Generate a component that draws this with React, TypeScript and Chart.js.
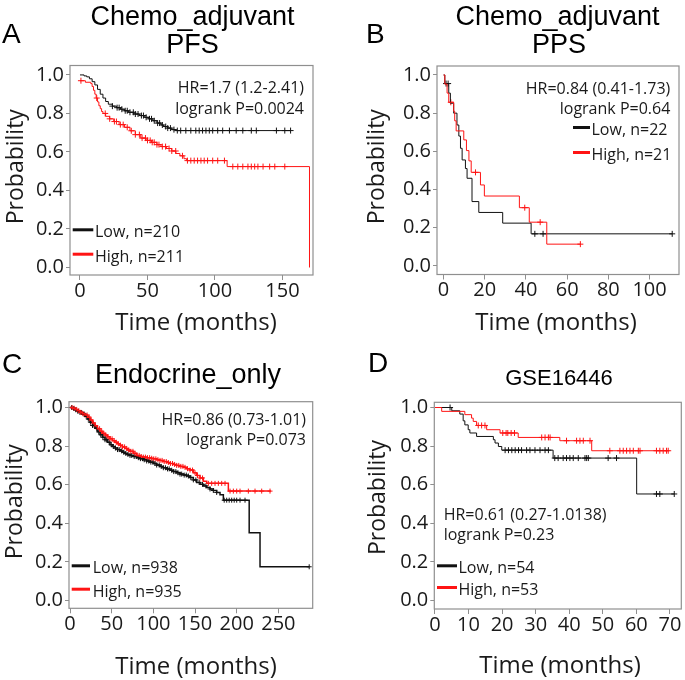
import React, { useEffect, useRef } from "react";
import { Chart, registerables } from "chart.js";

Chart.register(...registerables);

// ---------------- shared ticks ----------------
const yTickValues = [0, 0.2, 0.4, 0.6, 0.8, 1.0];
const yTickLabels = ["0.0", "0.2", "0.4", "0.6", "0.8", "1.0"];

// ---------------- Panel A: Chemo_adjuvant PFS ----------------
const aXTicks = [0, 50, 100, 150];
const aXTickLabels = ["0", "50", "100", "150"];
const aLowTime = [0, 3, 5, 7, 9, 11, 13, 15, 17, 19, 21, 24, 27, 30, 33, 36, 40, 44, 48, 51, 54, 57, 60, 62, 65, 68, 71, 156];
const aLowSurv = [1.0, 0.995, 0.99, 0.98, 0.965, 0.948, 0.925, 0.9, 0.88, 0.862, 0.848, 0.838, 0.83, 0.822, 0.814, 0.806, 0.797, 0.789, 0.78, 0.772, 0.762, 0.75, 0.74, 0.732, 0.724, 0.716, 0.711, 0.711];
const aLowCensor = [24, 27.5, 29, 31, 33.5, 35, 37, 39.5, 41, 43, 45.5, 47, 49, 51.5, 53, 55, 57.5, 59, 61, 63.5, 65, 67, 69.6, 72.1, 74.6, 78.4, 82.1, 85.8, 88.3, 90.8, 93.3, 95.8, 98.3, 102, 105.7, 110.7, 115.7, 120.6, 126.9, 130.6, 145.5, 151.7, 156];
const aHighTime = [0, 4, 8, 9, 10, 11, 12, 13, 14, 15, 16, 17, 19, 22, 25, 29, 33, 37, 41, 45, 49, 53, 57, 60, 64, 68, 71, 74, 77, 79, 109, 170];
const aHighSurv = [0.97, 0.962, 0.955, 0.94, 0.92, 0.9, 0.88, 0.86, 0.84, 0.825, 0.81, 0.8, 0.785, 0.772, 0.758, 0.742, 0.728, 0.71, 0.69, 0.672, 0.66, 0.65, 0.638, 0.628, 0.618, 0.605, 0.592, 0.58, 0.565, 0.555, 0.524, 0.0];
const aHighCensor = [0.7, 12.4, 18.7, 22, 25.5, 27, 29.9, 32, 35, 38, 41, 44, 46, 48.5, 50, 52, 53.5, 55, 57, 58.5, 61, 63.4, 66, 68, 70.9, 75.9, 79.6, 82.1, 84.6, 87.1, 89.6, 92, 94.5, 98.3, 102, 107, 113.2, 116.9, 120.6, 124.4, 126.9, 129.4, 131.8, 135.6, 140.5, 144.3, 151.7];

// ---------------- Panel B: Chemo_adjuvant PPS ----------------
const bXTicks = [0, 20, 40, 60, 80, 100];
const bXTickLabels = ["0", "20", "40", "60", "80", "100"];
const bLowTime = [0, 0.6, 2.5, 3.3, 4.9, 6.5, 7.4, 8.2, 9.0, 10.6, 11.4, 13.8, 17.1, 28.7, 42.5, 111];
const bLowSurv = [1.0, 0.955, 0.905, 0.852, 0.8, 0.738, 0.68, 0.616, 0.555, 0.51, 0.459, 0.337, 0.28, 0.224, 0.168, 0.168];
const bLowCensor = [1.2, 2.2, 44.3, 48.3, 111];
const bHighTime = [0, 0.6, 1.7, 2.5, 4.9, 5.4, 6.1, 9.8, 11.1, 12.3, 13.4, 17.9, 19.8, 36.8, 41.6, 50.1, 66.4];
const bHighSurv = [1.0, 0.952, 0.905, 0.857, 0.81, 0.76, 0.707, 0.66, 0.604, 0.55, 0.49, 0.424, 0.366, 0.305, 0.229, 0.114, 0.114];
const bHighCensor = [3.5, 15.5, 39.4, 46.9, 66.4];

// ---------------- Panel C: Endocrine_only ----------------
const cXTicks = [0, 50, 100, 150, 200, 250];
const cXTickLabels = ["0", "50", "100", "150", "200", "250"];
const cLowTime = [0, 3, 6, 9, 12, 15, 18, 21, 24, 27, 30, 33, 36, 39, 42, 45, 48, 51, 54, 57, 60, 63, 66, 69, 72, 76, 80, 84, 88, 92, 96, 100, 104, 108, 112, 116, 120, 124, 128, 132, 136, 140, 144, 148, 152, 156, 160, 164, 168, 172, 176, 180, 184, 215, 228, 287];
const cLowSurv = [1.0, 0.995, 0.988, 0.98, 0.974, 0.966, 0.955, 0.94, 0.924, 0.907, 0.892, 0.874, 0.859, 0.846, 0.833, 0.82, 0.807, 0.798, 0.79, 0.782, 0.775, 0.768, 0.762, 0.757, 0.752, 0.746, 0.74, 0.735, 0.729, 0.723, 0.717, 0.71, 0.702, 0.695, 0.688, 0.682, 0.675, 0.668, 0.662, 0.655, 0.65, 0.645, 0.637, 0.625, 0.612, 0.602, 0.594, 0.586, 0.578, 0.57, 0.56, 0.548, 0.52, 0.351, 0.175, 0.175];
const cLowCensor = [2, 4.5, 7, 9.5, 12, 14, 17, 19.5, 22, 24.5, 27, 29, 32, 34.5, 37, 39.5, 42, 44, 47, 49.5, 52, 54.5, 57, 59, 62, 64.5, 67, 69.5, 72, 74, 77, 79.5, 82, 84.5, 87, 89, 92, 94.5, 97, 99.5, 102, 104, 107, 109.5, 112, 114.5, 117, 119, 122, 124.5, 127, 129.5, 132, 134, 137, 139.5, 142, 145, 148, 151, 155, 159, 163, 168, 172, 176, 185, 188, 191, 194, 197, 200, 204, 210, 287];
const cHighTime = [0, 3, 6, 9, 12, 15, 18, 21, 24, 27, 30, 33, 36, 39, 42, 45, 48, 51, 54, 57, 60, 63, 66, 69, 72, 76, 80, 84, 88, 92, 96, 100, 104, 108, 112, 116, 120, 124, 128, 132, 136, 140, 144, 148, 152, 156, 160, 164, 190, 241];
const cHighSurv = [1.0, 0.996, 0.99, 0.983, 0.975, 0.968, 0.961, 0.95, 0.935, 0.92, 0.905, 0.89, 0.877, 0.866, 0.857, 0.848, 0.838, 0.828, 0.82, 0.812, 0.805, 0.796, 0.788, 0.78, 0.773, 0.763, 0.752, 0.746, 0.743, 0.74, 0.737, 0.734, 0.73, 0.726, 0.72, 0.715, 0.71, 0.705, 0.7, 0.695, 0.69, 0.683, 0.676, 0.662, 0.648, 0.635, 0.618, 0.607, 0.567, 0.567];
const cHighCensor = [2.5, 5, 8, 10.5, 13, 15.5, 18, 20.5, 23, 25.5, 28, 30.5, 33, 35.5, 38, 40.5, 43, 45.5, 48, 50.5, 53, 55.5, 58, 60.5, 63, 65.5, 68, 70.5, 73, 75.5, 78, 80.5, 83, 85.5, 88, 90.5, 93, 95.5, 98, 100.5, 103, 105.5, 108, 110.5, 113, 115.5, 118, 120.5, 123, 125.5, 128, 130.5, 133, 135.5, 138, 141, 144, 147, 150, 153, 156, 159, 166, 170, 174, 178, 182, 186, 192, 196, 200, 204, 214, 222, 230, 240];

// ---------------- Panel D: GSE16446 ----------------
const dXTicks = [0, 10, 20, 30, 40, 50, 60, 70];
const dXTickLabels = ["0", "10", "20", "30", "40", "50", "60", "70"];
const dLowTime = [0, 5, 7.4, 8.4, 8.9, 9.9, 10.4, 12.4, 17.4, 17.9, 18.9, 19.9, 35.2, 60.1, 71.3];
const dLowSurv = [1.0, 0.983, 0.966, 0.931, 0.91, 0.885, 0.868, 0.85, 0.833, 0.816, 0.798, 0.779, 0.738, 0.552, 0.552];
const dLowCensor = [4.5, 20.9, 21.9, 22.9, 23.9, 24.9, 25.8, 27.3, 28.3, 29.8, 31.3, 32.8, 33.8, 35.7, 36.7, 38.2, 39.2, 40.2, 41.2, 42.7, 44.7, 45.2, 45.7, 51.6, 54.1, 66, 67, 71.3];
const dHighTime = [0, 2, 8.9, 10.9, 11.4, 12.4, 15.4, 19.4, 24.8, 37.2, 46.7, 69.5];
const dHighSurv = [1.0, 0.98, 0.963, 0.945, 0.928, 0.907, 0.885, 0.868, 0.845, 0.828, 0.776, 0.776];
const dHighCensor = [12.9, 13.9, 14.9, 20.2, 21.2, 21.7, 22.7, 23.7, 31.8, 32.8, 33.8, 34.3, 39.2, 42.2, 43.2, 44.2, 46.2, 52.1, 55.1, 56.1, 57.1, 58.1, 59.1, 60.6, 61.1, 66, 67, 68, 69, 69.5];

// ---------------- styling ----------------
const SANS = '"Open Sans", "Noto Sans", sans-serif';
const ARIAL = '"Liberation Sans", Arial, sans-serif';
const GRAY = "#8f8f8f";
const BLACK = "#111111";
const RED = "#ff1414";
const TEXT = "#1a1a1a";
const Y_W = 45;
const X_H = 40;

type TextItem = { text: string; x: number; y: number; font: string; align?: CanvasTextAlign; rotate?: boolean };
type LegendItem = { label: string; color: string; x1: number; x2: number; tx: number; base: number };
type Series = { t: number[]; s: number[]; c: number[] };
type Spec = {
  key: string; left: number; top: number; width: number; height: number;
  area: { l: number; t: number; r: number; b: number };
  xMin: number; xMax: number; yMin: number; yMax: number;
  xTicks: number[]; xLabels: string[];
  low: Series; high: Series;
  lineWidth: number; crossR: number;
  texts: TextItem[]; legend: LegendItem[];
};

const T = (size: number) => `${size}px ${SANS}`;
const H = (size: number) => `${size}px ${ARIAL}`;

const panels: Spec[] = [
  {
    key: "A", left: 0, top: 0, width: 342, height: 340,
    area: { l: 70, t: 65.5, r: 313, b: 275 },
    xMin: -7.4, xMax: 172.6, yMin: -0.039, yMax: 1.049,
    xTicks: aXTicks, xLabels: aXTickLabels,
    low: { t: aLowTime, s: aLowSurv, c: aLowCensor },
    high: { t: aHighTime, s: aHighSurv, c: aHighCensor },
    lineWidth: 1, crossR: 3,
    texts: [
      { text: "A", x: 2, y: 43, font: H(28), align: "left" },
      { text: "Chemo_adjuvant", x: 192.5, y: 25, font: H(27), align: "center" },
      { text: "PFS", x: 192.5, y: 53, font: H(27), align: "center" },
      { text: "HR=1.7 (1.2-2.41)", x: 304, y: 93.3, font: T(16), align: "right" },
      { text: "logrank P=0.0024", x: 304, y: 114.3, font: T(16), align: "right" },
      { text: "Probability", x: 16.7, y: 166.7, font: T(23), rotate: true },
      { text: "Time (months)", x: 196, y: 330, font: T(24), align: "center" },
    ],
    legend: [
      { label: "Low, n=210", color: BLACK, x1: 72.7, x2: 93.3, tx: 95, base: 237.3 },
      { label: "High, n=211", color: RED, x1: 72.7, x2: 93.3, tx: 95, base: 261.7 },
    ],
  },
  {
    key: "B", left: 342, top: 0, width: 343, height: 340,
    area: { l: 437, t: 66, r: 679, b: 274.5 },
    xMin: -3.2, xMax: 114.3, yMin: -0.045, yMax: 1.047,
    xTicks: bXTicks, xLabels: bXTickLabels,
    low: { t: bLowTime, s: bLowSurv, c: bLowCensor },
    high: { t: bHighTime, s: bHighSurv, c: bHighCensor },
    lineWidth: 1, crossR: 3,
    texts: [
      { text: "B", x: 366, y: 43.3, font: H(28), align: "left" },
      { text: "Chemo_adjuvant", x: 557.5, y: 25, font: H(27), align: "center" },
      { text: "PPS", x: 559, y: 53, font: H(27), align: "center" },
      { text: "HR=0.84 (0.41-1.73)", x: 670.3, y: 94.3, font: T(16), align: "right" },
      { text: "logrank P=0.64", x: 670.3, y: 114.3, font: T(16), align: "right" },
      { text: "Probability", x: 377, y: 166.7, font: T(23), rotate: true },
      { text: "Time (months)", x: 556, y: 330, font: T(24), align: "center" },
    ],
    legend: [
      { label: "Low, n=22", color: BLACK, x1: 573, x2: 590, tx: 591.5, base: 135 },
      { label: "High, n=21", color: RED, x1: 573, x2: 590, tx: 591.5, base: 160 },
    ],
  },
  {
    key: "C", left: 0, top: 340, width: 342, height: 340,
    area: { l: 69, t: 401.7, r: 312.7, b: 608.3 },
    xMin: -1.2, xMax: 291.2, yMin: -0.04, yMax: 1.03,
    xTicks: cXTicks, xLabels: cXTickLabels,
    low: { t: cLowTime, s: cLowSurv, c: cLowCensor },
    high: { t: cHighTime, s: cHighSurv, c: cHighCensor },
    lineWidth: 1.5, crossR: 2.5,
    texts: [
      { text: "C", x: 2, y: 373, font: H(28), align: "left" },
      { text: "Endocrine_only", x: 188, y: 383, font: H(27), align: "center" },
      { text: "HR=0.86 (0.73-1.01)", x: 306, y: 425, font: T(16), align: "right" },
      { text: "logrank P=0.073", x: 306, y: 445, font: T(16), align: "right" },
      { text: "Probability", x: 15, y: 501.7, font: T(23), rotate: true },
      { text: "Time (months)", x: 196, y: 673.5, font: T(24), align: "center" },
    ],
    legend: [
      { label: "Low, n=938", color: BLACK, x1: 71.7, x2: 90, tx: 92.7, base: 573.3 },
      { label: "High, n=935", color: RED, x1: 71.7, x2: 90, tx: 92.7, base: 596.7 },
    ],
  },
  {
    key: "D", left: 342, top: 340, width: 343, height: 340,
    area: { l: 434.3, t: 402.3, r: 681.3, b: 609 },
    xMin: -0.2, xMax: 73.4, yMin: -0.044, yMax: 1.027,
    xTicks: dXTicks, xLabels: dXTickLabels,
    low: { t: dLowTime, s: dLowSurv, c: dLowCensor },
    high: { t: dHighTime, s: dHighSurv, c: dHighCensor },
    lineWidth: 1, crossR: 3,
    texts: [
      { text: "D", x: 368, y: 372, font: H(28), align: "left" },
      { text: "GSE16446", x: 559, y: 385, font: H(22), align: "center" },
      { text: "HR=0.61 (0.27-1.0138)", x: 443.7, y: 520, font: T(16), align: "left" },
      { text: "logrank P=0.23", x: 443.7, y: 540, font: T(16), align: "left" },
      { text: "Probability", x: 378.7, y: 497.5, font: T(23), rotate: true },
      { text: "Time (months)", x: 560, y: 673, font: T(24), align: "center" },
    ],
    legend: [
      { label: "Low, n=54", color: BLACK, x1: 437, x2: 457, tx: 458.5, base: 573.3 },
      { label: "High, n=53", color: RED, x1: 437, x2: 457, tx: 458.5, base: 595 },
    ],
  },
];

function stepAt(times: number[], surv: number[], t: number): number {
  let v = surv[0];
  for (let i = 0; i < times.length; i++) {
    if (times[i] <= t) v = surv[i];
  }
  return v;
}

function decorPlugin(p: Spec) {
  return {
    id: "decor" + p.key,
    afterDraw(chart: any) {
      const ctx: CanvasRenderingContext2D = chart.ctx;
      const ca = chart.chartArea;
      ctx.save();
      ctx.strokeStyle = GRAY;
      ctx.lineWidth = 1.2;
      ctx.strokeRect(ca.left, ca.top, ca.right - ca.left, ca.bottom - ca.top);
      for (const lg of p.legend) {
        const ly = lg.base - 7.5 - p.top;
        ctx.strokeStyle = lg.color;
        ctx.lineWidth = 3;
        ctx.beginPath();
        ctx.moveTo(lg.x1 - p.left, ly);
        ctx.lineTo(lg.x2 - p.left, ly);
        ctx.stroke();
        ctx.fillStyle = TEXT;
        ctx.font = T(16);
        ctx.textAlign = "left";
        ctx.textBaseline = "alphabetic";
        ctx.fillText(lg.label, lg.tx - p.left, lg.base - p.top);
      }
      for (const t of p.texts) {
        ctx.fillStyle = t.font.includes("Liberation") ? "#000" : TEXT;
        ctx.font = t.font;
        if (t.rotate) {
          ctx.save();
          ctx.translate(t.x - p.left, t.y - p.top);
          ctx.rotate(-Math.PI / 2);
          ctx.textAlign = "center";
          ctx.textBaseline = "middle";
          ctx.fillText(t.text, 0, 0);
          ctx.restore();
        } else {
          ctx.textAlign = t.align || "left";
          ctx.textBaseline = "alphabetic";
          ctx.fillText(t.text, t.x - p.left, t.y - p.top);
        }
      }
      ctx.restore();
    },
  };
}

function makeConfig(p: Spec): any {
  const pts = (s: Series) => s.t.map((x, i) => ({ x, y: s.s[i] }));
  const cens = (s: Series) => s.c.map((x) => ({ x, y: stepAt(s.t, s.s, x) }));
  const caL = p.area.l - p.left;
  const caT = p.area.t - p.top;
  const caR = p.area.r - p.left;
  const caB = p.area.b - p.top;
  const resetPad = (s: any) => {
    s.paddingLeft = 0;
    s.paddingRight = 0;
    s.paddingTop = 0;
    s.paddingBottom = 0;
  };
  return {
    type: "line",
    data: {
      datasets: [
        { label: "High", data: pts(p.high), borderColor: RED, borderWidth: p.lineWidth, stepped: true, pointRadius: 0, fill: false, order: 1 },
        { label: "Low", data: pts(p.low), borderColor: BLACK, borderWidth: p.lineWidth, stepped: true, pointRadius: 0, fill: false, order: 2 },
        { label: "High censored", data: cens(p.high), showLine: false, pointStyle: "cross", pointRadius: p.crossR, borderColor: RED, borderWidth: 1, order: 3 },
        { label: "Low censored", data: cens(p.low), showLine: false, pointStyle: "cross", pointRadius: p.crossR, borderColor: BLACK, borderWidth: 1, order: 4 },
      ],
    },
    options: {
      responsive: false,
      maintainAspectRatio: false,
      animation: false,
      events: [],
      layout: {
        autoPadding: false,
        padding: { left: caL - Y_W, top: caT, right: p.width - caR, bottom: p.height - caB - X_H },
      },
      plugins: { legend: { display: false }, tooltip: { enabled: false }, title: { display: false } },
      scales: {
        x: {
          type: "linear",
          min: p.xMin,
          max: p.xMax,
          afterBuildTicks: (s: any) => {
            s.ticks = p.xTicks.map((v) => ({ value: v }));
          },
          afterFit: (s: any) => {
            s.height = X_H;
            resetPad(s);
          },
          grid: { display: true, drawOnChartArea: false, drawTicks: true, tickLength: 5, color: GRAY, lineWidth: 1 },
          border: { display: false },
          ticks: {
            autoSkip: false,
            maxRotation: 0,
            minRotation: 0,
            padding: -1,
            color: TEXT,
            font: { family: SANS, size: 20 },
            callback: (_v: any, i: number) => p.xLabels[i],
          },
        },
        y: {
          type: "linear",
          min: p.yMin,
          max: p.yMax,
          afterBuildTicks: (s: any) => {
            s.ticks = yTickValues.map((v) => ({ value: v }));
          },
          afterFit: (s: any) => {
            s.width = Y_W;
            resetPad(s);
          },
          grid: { display: true, drawOnChartArea: false, drawTicks: true, tickLength: 4, color: GRAY, lineWidth: 1 },
          border: { display: false },
          ticks: {
            autoSkip: false,
            padding: 2,
            color: TEXT,
            font: { family: SANS, size: 20 },
            callback: (_v: any, i: number) => yTickLabels[i],
          },
        },
      },
    },
    plugins: [decorPlugin(p)],
  };
}

function Panel({ spec }: { spec: Spec }) {
  const ref = useRef<HTMLCanvasElement>(null);
  useEffect(() => {
    if (!ref.current) return;
    const chart = new Chart(ref.current, makeConfig(spec));
    return () => chart.destroy();
  }, [spec]);
  return (
    <canvas
      ref={ref}
      width={spec.width}
      height={spec.height}
      style={{ position: "absolute", left: spec.left, top: spec.top, width: spec.width, height: spec.height }}
    />
  );
}

export default function App() {
  return (
    <div style={{ position: "absolute", left: 0, top: 0, width: 685, height: 680, background: "#fff", overflow: "hidden" }}>
      {panels.map((p) => (
        <Panel key={p.key} spec={p} />
      ))}
    </div>
  );
}
